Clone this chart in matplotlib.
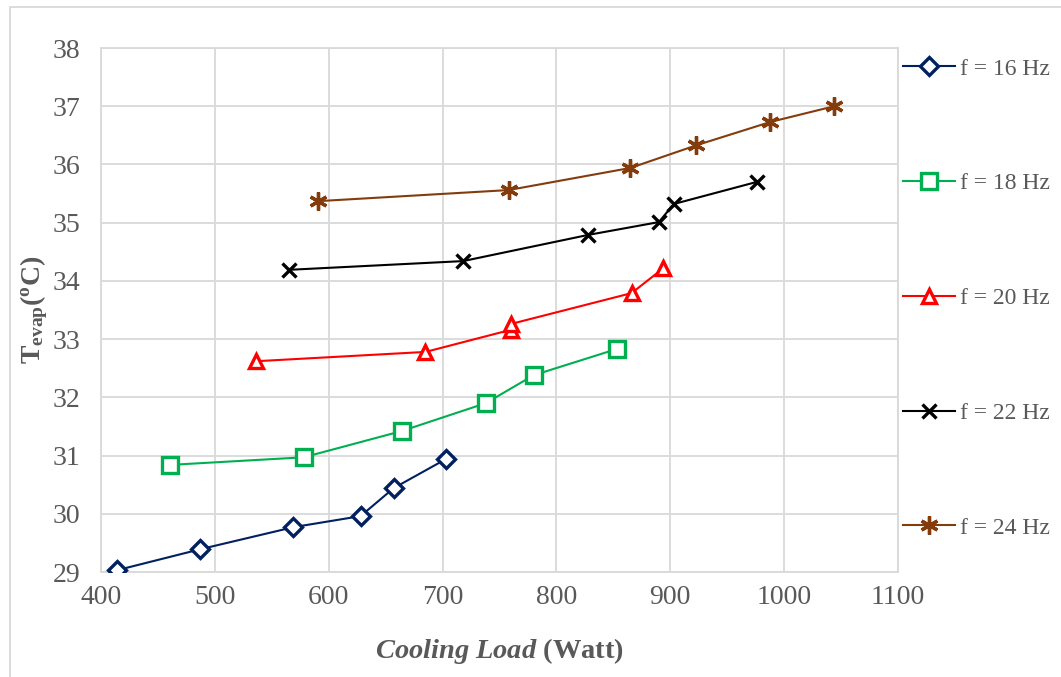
import matplotlib
matplotlib.use("Agg")
import matplotlib.pyplot as plt
from matplotlib.patches import Rectangle

plt.rcParams['font.family'] = ['Liberation Serif', 'DejaVu Serif']
plt.rcParams['mathtext.fontset'] = 'custom'
plt.rcParams['mathtext.rm'] = 'Liberation Serif'
plt.rcParams['mathtext.bf'] = 'Liberation Serif:bold'
plt.rcParams['mathtext.it'] = 'Liberation Serif:italic'
plt.rcParams['mathtext.bfit'] = 'Liberation Serif:italic:bold'

labels = ['f = 16 Hz', 'f = 18 Hz', 'f = 20 Hz', 'f = 22 Hz', 'f = 24 Hz']
x16 = [414, 487, 569, 628, 657, 703]
y16 = [29.03, 29.39, 29.77, 29.96, 30.44, 30.94]
x18 = [461, 578, 664, 738, 780, 853]
y18 = [30.84, 30.97, 31.42, 31.90, 32.38, 32.83]
x20 = [536, 685, 760, 760, 866, 894]
y20 = [32.62, 32.78, 33.16, 33.26, 33.79, 34.22]
x22 = [565, 718, 828, 890, 903, 976]
y22 = [34.19, 34.34, 34.79, 35.01, 35.32, 35.70]
x24 = [591, 758, 865, 923, 988, 1044]
y24 = [35.37, 35.56, 35.94, 36.33, 36.73, 37.00]

xs = [x16, x18, x20, x22, x24]
ys = [y16, y18, y20, y22, y24]
colors = ['#002060', '#00B050', '#FF0000', '#000000', '#843C0C']
markers = ['D', 's', '^', 'x', (6, 2, 0)]
msizes = [9.5, 11, 10, 10, 13]

W, H = 1061, 677
fig = plt.figure(figsize=(W / 100, H / 100), dpi=100)
ax = fig.add_axes([101 / W, 1 - 572 / H, (898 - 101) / W, (572 - 48) / H])

for x, y, c, m, s, lab in zip(xs, ys, colors, markers, msizes, labels):
    ax.plot(x, y, color=c, lw=1.5, marker=m, ms=s, mfc='white', mec=c,
            mew=2.4, label=lab, zorder=3)

ax.set_xlim(400, 1100)
ax.set_ylim(29, 38)
ax.set_xticks(range(400, 1101, 100))
ax.set_yticks(range(29, 39))
ax.grid(True, color='#d9d9d9', lw=1.3)
ax.set_axisbelow(True)
for sp in ax.spines.values():
    sp.set_color('#d9d9d9')
    sp.set_linewidth(1.3)
ax.tick_params(length=0, labelsize=20, colors='#595959')
ax.tick_params(axis='x', pad=9)
ax.tick_params(axis='y', pad=15)

ax.set_xlabel(r'$\mathbfit{Cooling\ Load}$ (Watt)', fontsize=20.5,
              fontweight='bold', color='#595959', labelpad=19)
ax.set_ylabel(r'T$_{\mathbf{evap}}$($^{\mathbf{o}}$C)', fontsize=20,
              fontweight='bold', color='#595959', labelpad=2)

leg = ax.legend(loc='upper left', bbox_to_anchor=(903 / W, 1 - 58 / H),
                bbox_transform=fig.transFigure, frameon=False, fontsize=17,
                labelspacing=3.95, handlelength=2.2, handletextpad=0.2,
                borderaxespad=0, borderpad=0)
for t in leg.get_texts():
    t.set_color('#595959')

fig.patches.append(Rectangle((10 / W, -0.05), 1.2, 1 - 7 / H + 0.05,
                             transform=fig.transFigure, fill=False,
                             edgecolor='#d9d9d9', lw=1.3, zorder=0))

fig.savefig('out.png', dpi=100)
